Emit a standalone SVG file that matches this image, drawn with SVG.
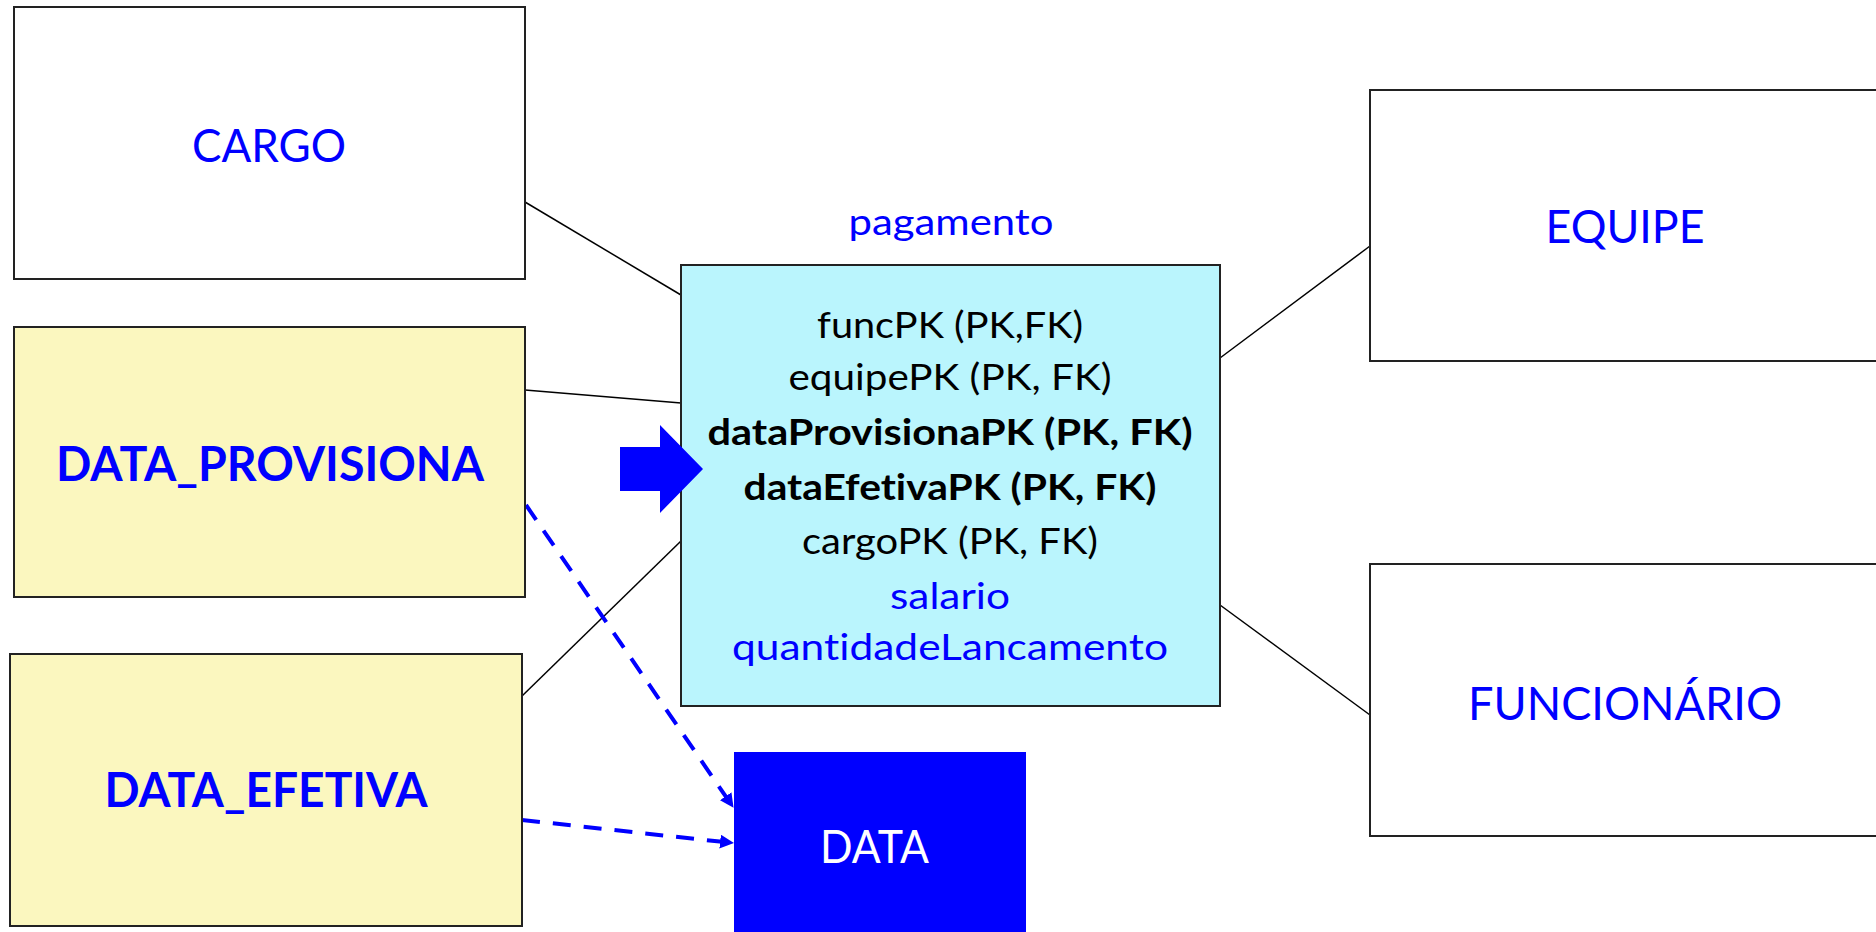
<svg xmlns="http://www.w3.org/2000/svg" width="1876" height="932" viewBox="0 0 1876 932">
<style>
text{font-variant-ligatures:none;font-feature-settings:"liga" 0,"clig" 0}
.box{stroke:#222;stroke-width:2}
.white{fill:#fff}
.yel{fill:#FBF7BF}
.cyan{fill:#BAF5FD}
.lbl{font-family:Lato,"Liberation Sans",sans-serif;fill:#0000FF;text-anchor:middle}
.reg{font-size:47px}
.bold{font-size:47px;font-weight:bold}
.attr{font-family:Lato,"Liberation Sans",sans-serif;font-size:36px;text-anchor:middle;fill:#000}
.attrb{font-weight:bold}
.blue{fill:#0000FF}
.conn{stroke:#000;stroke-width:1.5;fill:none}
.dash{stroke:#0000FF;stroke-width:4;stroke-dasharray:18 13;fill:none}
</style>
<defs>
<marker id="ah" markerUnits="userSpaceOnUse" markerWidth="14" markerHeight="14" viewBox="0 0 14 14" refX="13" refY="7" orient="auto">
<path d="M0,0 L14,7 L0,14 z" fill="#0000FF"/>
</marker>
</defs>
<rect width="1876" height="932" fill="#fff"/>
<g id="connectors">
<line class="conn" x1="525" y1="202" x2="681" y2="295"/>
<line class="conn" x1="525" y1="390" x2="681" y2="403"/>
<line class="conn" x1="521" y1="697" x2="681" y2="541"/>
<line class="conn" x1="1220" y1="358" x2="1370" y2="246"/>
<line class="conn" x1="1220" y1="605" x2="1370" y2="715"/>
<line class="dash" x1="526" y1="505" x2="733" y2="807" marker-end="url(#ah)"/>
<line class="dash" x1="522" y1="820" x2="733" y2="843" marker-end="url(#ah)"/>
</g>
<g id="cargo">
<rect class="box white" x="14" y="7" width="511" height="272"/>
<text class="lbl reg" x="269" y="162" textLength="154" lengthAdjust="spacingAndGlyphs">CARGO</text>
</g>
<g id="data_provisiona">
<rect class="box yel" x="14" y="327" width="511" height="270"/>
<text class="lbl bold" x="270" y="481" textLength="428" lengthAdjust="spacingAndGlyphs">DATA_PROVISIONA</text>
</g>
<g id="data_efetiva">
<rect class="box yel" x="10" y="654" width="512" height="272"/>
<text class="lbl bold" x="266" y="807" textLength="323" lengthAdjust="spacingAndGlyphs">DATA_EFETIVA</text>
</g>
<g id="pagamento">
<text class="lbl" style="font-size:36px" x="951" y="235" textLength="205" lengthAdjust="spacingAndGlyphs">pagamento</text>
<rect class="box cyan" x="681" y="265" width="539" height="441"/>
<text class="attr" x="950" y="338" textLength="266" lengthAdjust="spacingAndGlyphs">funcPK (PK,FK)</text>
<text class="attr" x="950" y="390" textLength="323" lengthAdjust="spacingAndGlyphs">equipePK (PK, FK)</text>
<text class="attr attrb" x="950" y="445" textLength="485" lengthAdjust="spacingAndGlyphs">dataProvisionaPK (PK, FK)</text>
<text class="attr attrb" x="950" y="500" textLength="413" lengthAdjust="spacingAndGlyphs">dataEfetivaPK (PK, FK)</text>
<text class="attr" x="950" y="554" textLength="296" lengthAdjust="spacingAndGlyphs">cargoPK (PK, FK)</text>
<text class="attr" style="fill:#0000FF" x="950" y="609" textLength="120" lengthAdjust="spacingAndGlyphs">salario</text>
<text class="attr" style="fill:#0000FF" x="950" y="660" textLength="436" lengthAdjust="spacingAndGlyphs">quantidadeLancamento</text>
</g>
<g id="seta">
<polygon class="blue" points="620,447 660,447 660,425 703,469 660,513 660,491 620,491"/>
</g>
<g id="equipe">
<rect class="box white" x="1370" y="90" width="520" height="271"/>
<text class="lbl reg" x="1625" y="243" textLength="159" lengthAdjust="spacingAndGlyphs">EQUIPE</text>
</g>
<g id="funcionario">
<rect class="box white" x="1370" y="564" width="520" height="272"/>
<text class="lbl reg" x="1625" y="720" textLength="314" lengthAdjust="spacingAndGlyphs">FUNCIONÁRIO</text>
</g>
<g id="data">
<rect class="blue" x="734" y="752" width="292" height="190"/>
<text class="lbl" style="font-size:47px;fill:#fff" x="874.5" y="862.5" textLength="109" lengthAdjust="spacingAndGlyphs">DATA</text>
</g>
</svg>
